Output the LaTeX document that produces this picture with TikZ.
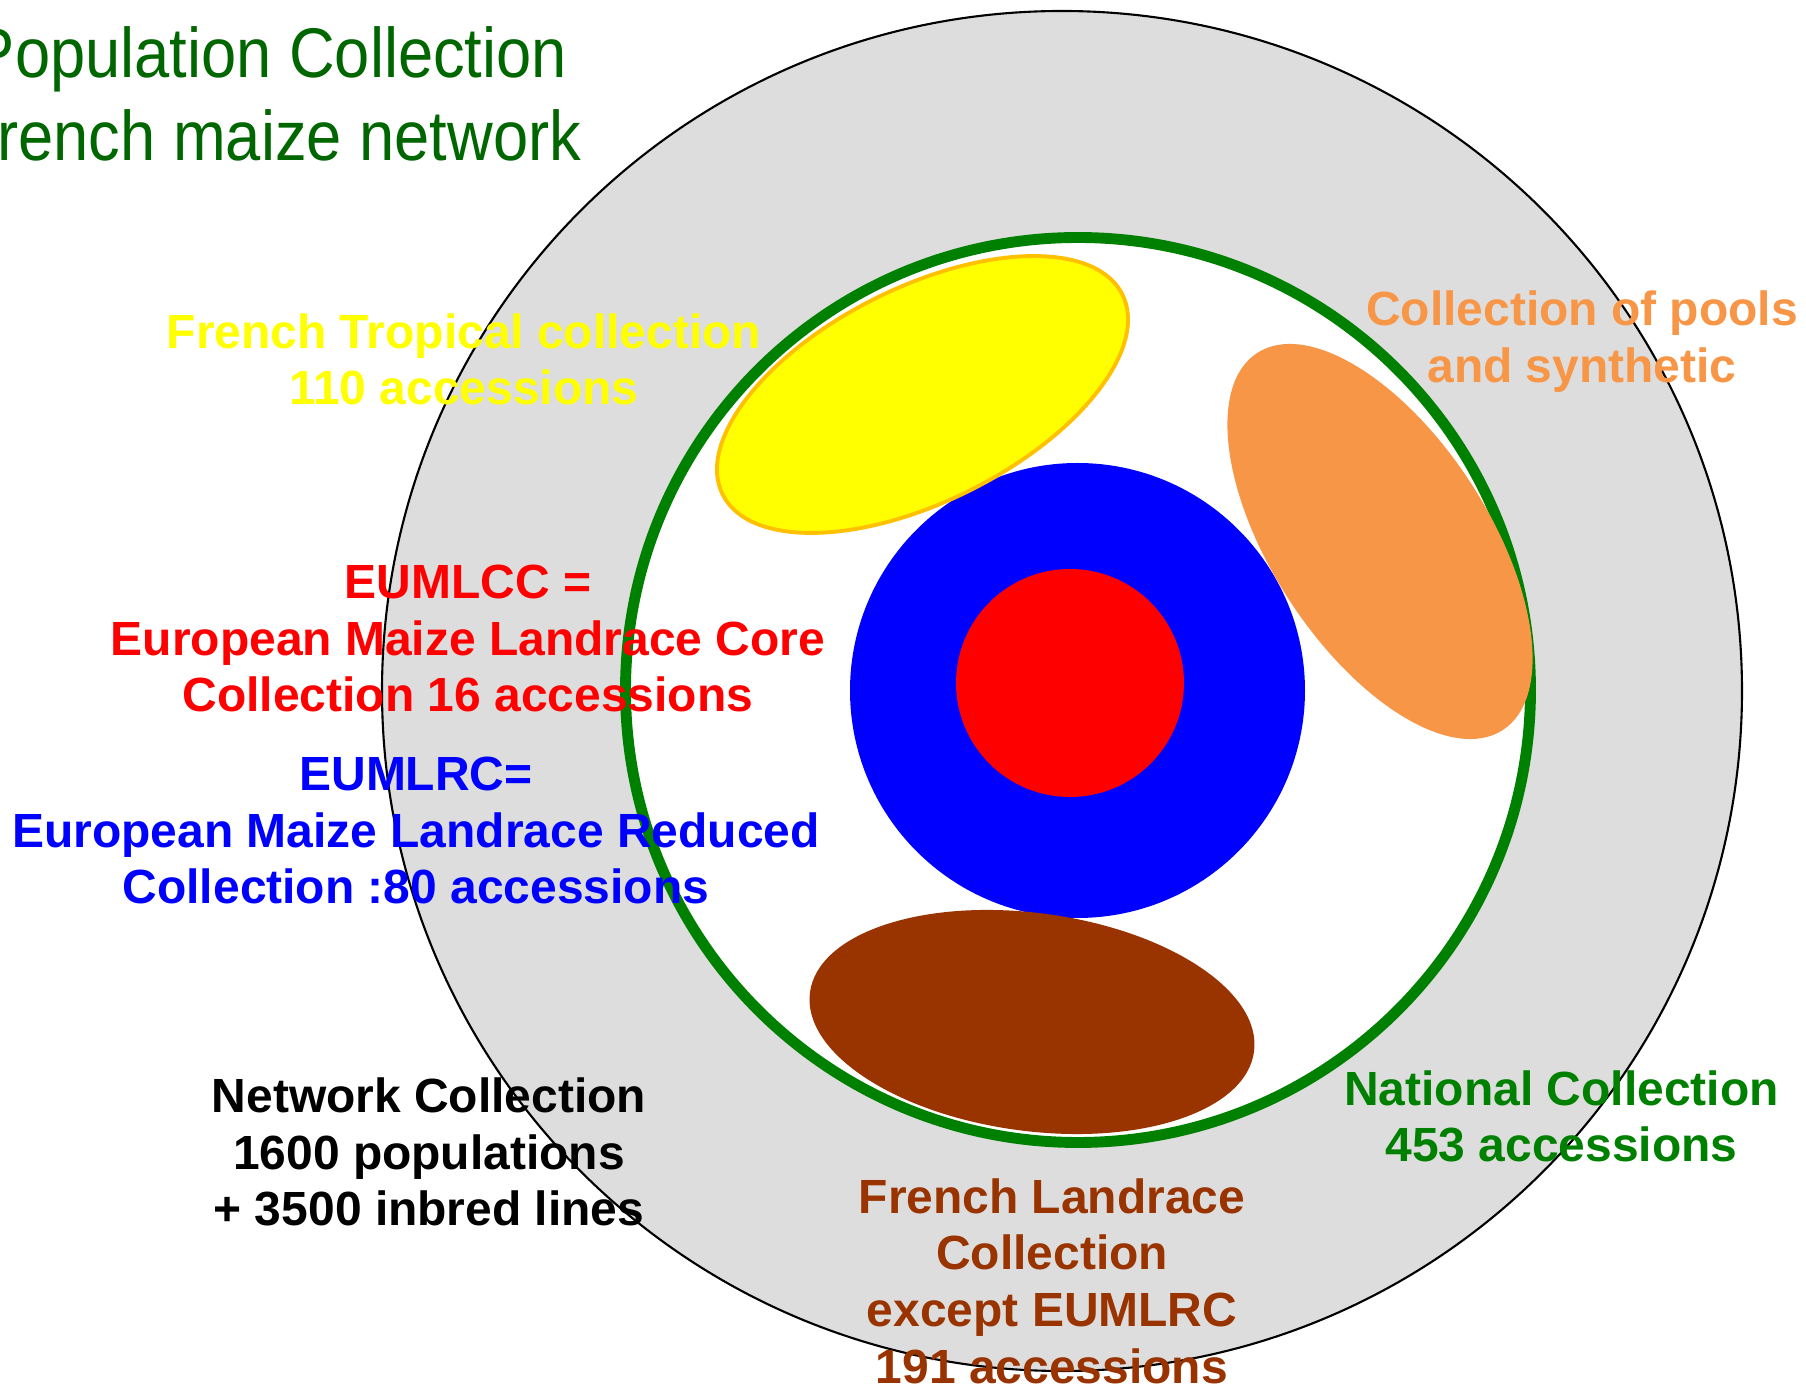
\documentclass[tikz,border=0pt]{standalone}
\usepackage{fontspec}
\setmainfont{Liberation Sans}
\newfontfamily\narrowfont[FakeStretch=0.9]{Liberation Sans}
\usepackage{xcolor}
\usepackage{tikz}
\definecolor{ringgray}{HTML}{DDDDDD}
\definecolor{natgreen}{HTML}{008000}
\definecolor{titlegreen}{HTML}{006600}
\definecolor{tropyellow}{HTML}{FFFF00}
\definecolor{tropedge}{HTML}{FFC000}
\definecolor{poolorange}{HTML}{F79646}
\definecolor{landbrown}{HTML}{993300}

\begin{document}
\begin{tikzpicture}[lbl/.style={font=\bfseries\fontsize{13.65}{16.1}\selectfont,align=center}]
\useasboundingbox (0,0) rectangle (18.06,13.88);
\def\networkcircle{(10.62,6.97) circle (6.8cm)}
  \def\nationalcircle{(10.78,6.98) circle (4.525cm)}
  \def\reducedcircle{(10.775,6.975) circle (2.275cm)}
  \def\corecircle{(10.70,7.05) circle (1.14cm)}
      \filldraw[fill=ringgray,draw=black,line width=.6pt] \networkcircle;
      \filldraw[fill=white,draw=natgreen,line width=3.1pt] \nationalcircle;
      \fill[blue] \reducedcircle;
      \fill[red] \corecircle;
      \filldraw[fill=tropyellow,draw=tropedge,line width=1.1pt,rotate around={26.6:(9.225,9.935)}] (9.225,9.935) ellipse (2.235cm and 1.07cm);
      \fill[poolorange,rotate around={-56.9:(13.8,8.465)}] (13.8,8.465) ellipse (2.25cm and 1.08cm);
      \fill[landbrown,rotate around={-7.6:(10.32,3.66)}] (10.32,3.66) ellipse (2.24cm and 1.09cm);
      \node[font=\narrowfont\fontsize{20}{23.6}\selectfont,text=titlegreen,align=center] (title) at (2.70,12.945) {Population Collection\\French maize network};
      \node[lbl,text=tropyellow] (tropical) at (4.64,10.285) {French Tropical collection\\110 accessions};
      \node[lbl,text=poolorange] (pools) at (15.82,10.465) {Collection of pools\\and synthetic};
      \node[lbl,text=red] (core) at (4.68,7.495) {EUMLCC =\\European Maize Landrace Core\\Collection 16 accessions};
      \node[lbl,text=blue] (reduced) at (4.16,5.575) {EUMLRC=\\European Maize Landrace Reduced\\Collection :80 accessions};
      \node[lbl,text=black] (network) at (4.29,2.36) {Network Collection\\1600 populations\\+ 3500 inbred lines};
      \node[lbl,text=natgreen] (national) at (15.615,2.715) {National Collection\\453 accessions};
      \node[lbl,text=landbrown] (landrace) at (10.52,1.07) {French Landrace\\Collection\\except EUMLRC\\191 accessions};
\end{tikzpicture}
\end{document}
